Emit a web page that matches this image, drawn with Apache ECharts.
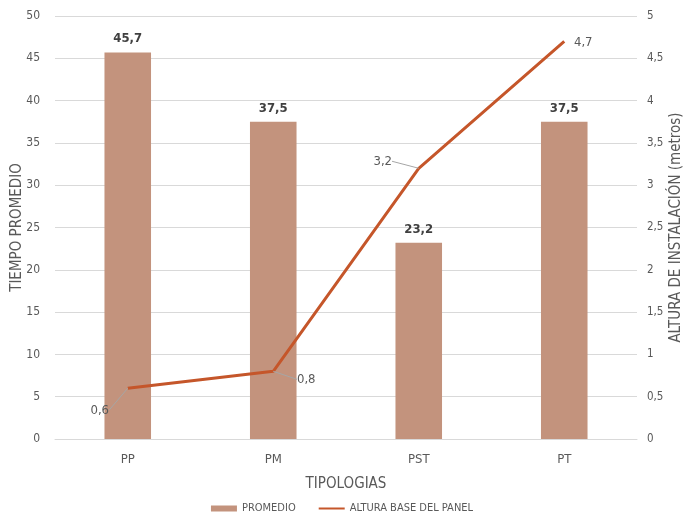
<!DOCTYPE html>
<html>
<head>
<meta charset="utf-8">
<script src="https://cdn.jsdelivr.net/npm/echarts@6/dist/echarts.min.js"></script>
<style>
  html, body { margin: 0; padding: 0; background: #fff; }
  #chart { width: 684px; height: 521px; }
</style>
</head>
<body>
<div id="chart"></div>
<script>
// Categories and series values
const tipologias = ['PP', 'PM', 'PST', 'PT'];
const promedio = [45.7, 37.5, 23.2, 37.5];
const alturaBase = [0.6, 0.8, 3.2, 4.7];

// Label offsets for the line labels (leader lines drawn by ECharts)
const lineLabelShift = [
  { dx: -28, dy: 22 },
  { dx: 33, dy: 8 },
  { dx: -36, dy: -7 },
  { dx: 19, dy: 1 }
];
const lineLabelLeader = [true, true, true, false];

const FONT = '"Liberation Sans Narrow", "DejaVu Sans Condensed", "Liberation Sans", sans-serif';
const comma = v => String(v).replace('.', ',');

const chart = echarts.init(document.getElementById('chart'));
chart.setOption({
  animation: false,
  textStyle: { fontFamily: FONT },
  grid: { left: 55, right: 47, top: 16, bottom: 82, outerBoundsMode: 'none', containLabel: false },
  legend: {
    bottom: 2,
    left: 'center',
    itemWidth: 26,
    itemHeight: 6,
    itemGap: 22,
    textStyle: { fontFamily: FONT, fontSize: 11, color: '#595959' },
    data: [
      { name: 'PROMEDIO', icon: 'rect' },
      { name: 'ALTURA BASE DEL PANEL', itemStyle: { color: 'rgba(0,0,0,0)', borderWidth: 0 } }
    ]
  },
  xAxis: {
    type: 'category',
    data: tipologias,
    name: 'TIPOLOGIAS',
    nameLocation: 'middle',
    nameGap: 38,
    nameTextStyle: { fontFamily: FONT, fontSize: 15, color: '#595959' },
    axisTick: { show: false },
    axisLine: { lineStyle: { color: '#d9d9d9' } },
    axisLabel: { fontFamily: FONT, fontSize: 13, color: '#595959', margin: 14 }
  },
  yAxis: [
    {
      type: 'value',
      min: 0, max: 50, interval: 5,
      name: 'TIEMPO PROMEDIO',
      nameLocation: 'middle',
      nameGap: 30,
      nameMoveOverlap: false,
      nameTextStyle: { fontFamily: FONT, fontSize: 15, color: '#595959' },
      axisLabel: { fontFamily: FONT, fontSize: 12, color: '#595959', margin: 15 },
      splitLine: { lineStyle: { color: '#d9d9d9' } }
    },
    {
      type: 'value',
      min: 0, max: 5, interval: 0.5,
      name: 'ALTURA DE INSTALACIÓN (metros)',
      nameLocation: 'middle',
      nameGap: 32,
      nameRotate: 90,
      nameMoveOverlap: false,
      nameTextStyle: { fontFamily: FONT, fontSize: 15, color: '#595959' },
      axisLabel: { fontFamily: FONT, fontSize: 11.5, color: '#595959', margin: 10, formatter: comma },
      splitLine: { show: false }
    }
  ],
  series: [
    {
      name: 'PROMEDIO',
      type: 'bar',
      data: promedio,
      barWidth: '32%',
      itemStyle: { color: '#C3937D' },
      label: {
        show: true,
        position: 'top',
        distance: 7,
        fontFamily: FONT,
        fontSize: 13,
        fontWeight: 'bold',
        color: '#404040',
        formatter: p => comma(p.value)
      }
    },
    {
      name: 'ALTURA BASE DEL PANEL',
      type: 'line',
      yAxisIndex: 1,
      z: 5,
      data: alturaBase.map((v, i) => ({ value: v, labelLine: { show: lineLabelLeader[i] } })),
      symbol: 'circle',
      symbolSize: 0.01,
      showSymbol: true,
      lineStyle: { color: '#C5562A', width: 3 },
      itemStyle: { color: '#C5562A' },
      label: {
        show: true,
        position: 'inside',
        fontFamily: FONT,
        fontSize: 13,
        color: '#595959',
        formatter: p => comma(p.value)
      },
      labelLine: { show: true, lineStyle: { color: '#a6a6a6', width: 1 } },
      labelLayout: p => lineLabelShift[p.dataIndex]
    }
  ]
});
</script>
</body>
</html>
